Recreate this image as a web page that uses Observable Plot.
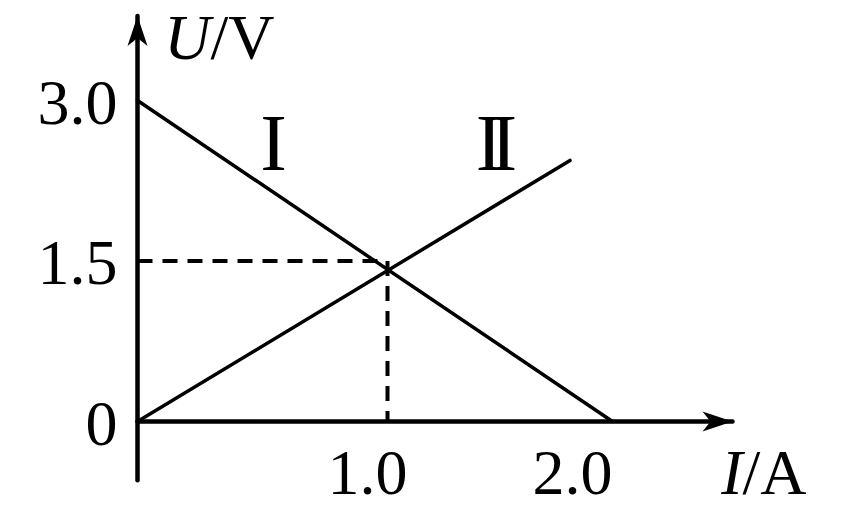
<!DOCTYPE html>
<html>
<head>
<meta charset="utf-8">
<script src="https://cdn.jsdelivr.net/npm/d3@7"></script>
<script src="https://cdn.jsdelivr.net/npm/@observablehq/plot@0.6"></script>
<style>
  html, body { margin: 0; padding: 0; background: #fff; }
  #chart svg { display: block; }
</style>
</head>
<body>
<div id="chart"></div>
<script>
// ---- data (I in A, U in V) ----
const line1I = [0, 1.9];
const line1U = [3.0, 0];
const line2I = [0, 1.73];
const line2U = [0, 2.44];
const dashI = [0, 1.0, 1.0];
const dashU = [1.5, 1.5, 0];
const yTickValues = [3.0, 1.5, 0];
const yTickLabels = ["3.0", "1.5", "0"];
const xTickLabels = ["1.0", "2.0"];
const xTickAt = [0.92, 1.74];
const curveNames = ["I", "II"];
const curveNameI = [0.544, 1.44];
const curveNameU = [2.59, 2.59];
const xAxisExtent = [0, 2.38];
const yAxisExtent = [-0.55, 3.79];
const uTitleAt = [0.292, 3.58];
const iTitleAt = [2.42, -0.486];

const pts = (xs, ys) => xs.map((x, i) => ({x, y: ys[i]}));

const arrowHead = {
  draw(ctx, size) {
    const r = Math.sqrt(size / Math.PI);
    ctx.moveTo(0, 0);
    ctx.lineTo(-3 * r, -r);
    ctx.lineTo(-2.2 * r, 0);
    ctx.lineTo(-3 * r, r);
    ctx.closePath();
  }
};

const font = "Liberation Serif, Times New Roman, serif";

const chart = Plot.plot({
  width: 846,
  height: 507,
  margin: 0,
  style: {background: "#fff", color: "#000"},
  x: {domain: [-137 / 250, 709 / 250], axis: null},
  y: {domain: [-86 / 107, 421 / 107], axis: null},
  marks: [
    // axes
    Plot.line(pts([xAxisExtent[0], xAxisExtent[1]], [0, 0]), {x: "x", y: "y", stroke: "#000", strokeWidth: 4.5}),
    Plot.line(pts([0, 0], yAxisExtent), {x: "x", y: "y", stroke: "#000", strokeWidth: 4.5}),
    Plot.dot([{x: xAxisExtent[1], y: 0, rot: 0}, {x: 0, y: yAxisExtent[1], rot: -90}],
      {x: "x", y: "y", r: 10, symbol: arrowHead, fill: "#000", stroke: "none", rotate: "rot"}),
    // dashed guide
    Plot.line(pts(dashI, dashU), {x: "x", y: "y", stroke: "#000", strokeWidth: 4, strokeDasharray: "15,10", strokeLinecap: "butt"}),
    // lines I and II
    Plot.line(pts(line1I, line1U), {x: "x", y: "y", stroke: "#000", strokeWidth: 3.5}),
    Plot.line(pts(line2I, line2U), {x: "x", y: "y", stroke: "#000", strokeWidth: 3.5}),
    // y tick labels
    Plot.text(yTickValues.map((v, i) => ({x: 0, y: v, t: yTickLabels[i]})),
      {x: "x", y: "y", text: "t", textAnchor: "end", dx: -20, dy: 3, fontSize: 64, fontFamily: font, fill: "#000"}),
    // x tick labels
    Plot.text(xTickAt.map((v, i) => ({x: v, y: 0, t: xTickLabels[i]})),
      {x: "x", y: "y", text: "t", textAnchor: "middle", dy: 52, fontSize: 64, fontFamily: font, fill: "#000"}),
    // curve names
    Plot.text(curveNames.map((t, i) => ({x: curveNameI[i], y: curveNameU[i], t})),
      {x: "x", y: "y", text: "t", textAnchor: "middle", fontSize: 80, fontFamily: font, fill: "#000"}),
    // axis titles
    Plot.text([{x: uTitleAt[0], y: uTitleAt[1], t: "U"}],
      {x: "x", y: "y", text: "t", textAnchor: "end", fontSize: 64, fontStyle: "italic", fontFamily: font, fill: "#000"}),
    Plot.text([{x: uTitleAt[0], y: uTitleAt[1], t: "/V"}],
      {x: "x", y: "y", text: "t", textAnchor: "start", fontSize: 64, fontFamily: font, fill: "#000"}),
    Plot.text([{x: iTitleAt[0], y: iTitleAt[1], t: "I"}],
      {x: "x", y: "y", text: "t", textAnchor: "end", fontSize: 64, fontStyle: "italic", fontFamily: font, fill: "#000"}),
    Plot.text([{x: iTitleAt[0], y: iTitleAt[1], t: "/A"}],
      {x: "x", y: "y", text: "t", textAnchor: "start", fontSize: 64, fontFamily: font, fill: "#000"})
  ]
});
d3.select(chart).selectAll("text")
  .filter(function () { return this.textContent === "II"; })
  .style("letter-spacing", "-12px")
  .attr("dx", -7);
document.getElementById("chart").appendChild(chart);
</script>
</body>
</html>
